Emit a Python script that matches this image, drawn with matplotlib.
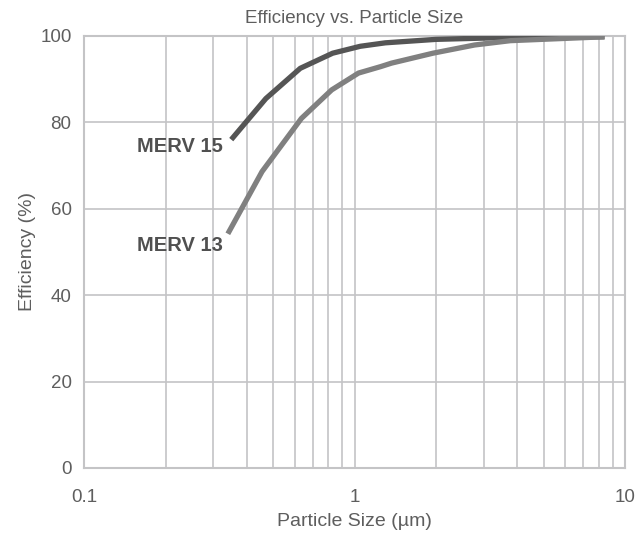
import numpy as np
import matplotlib
matplotlib.use("Agg")
import matplotlib.pyplot as plt
from matplotlib.ticker import FixedLocator, LogLocator, NullFormatter

# data
merv15_size = [0.35, 0.47, 0.63, 0.83, 1.05, 1.3, 2.0, 3.5, 8.4]
merv15_eff = [76.0, 85.5, 92.5, 96.0, 97.6, 98.4, 99.2, 99.6, 99.8]
merv13_size = [0.34, 0.455, 0.636, 0.823, 1.034, 1.25, 1.37, 1.95, 2.78, 3.77, 8.4]
merv13_eff = [54.2, 68.6, 80.9, 87.5, 91.4, 92.9, 93.7, 96.0, 97.9, 98.9, 99.8]
x_ticks = [0.1, 1, 10]
x_labels = ["0.1", "1", "10"]
y_ticks = [0, 20, 40, 60, 80, 100]

plt.rcParams['font.family'] = ['Liberation Sans', 'DejaVu Sans']

grid_c = '#c4c4c6'
text_c = '#5e5e5e'

fig = plt.figure(figsize=(6.42, 5.36), dpi=100)
ax = fig.add_axes([0.131, 0.127, 0.8425, 0.806])

ax.set_xscale('log')
ax.set_xlim(0.1, 10)
ax.set_ylim(0, 100)

ax.xaxis.set_major_locator(FixedLocator(x_ticks))
ax.set_xticklabels(x_labels)
ax.xaxis.set_minor_locator(LogLocator(base=10, subs=np.arange(2, 10)))
ax.xaxis.set_minor_formatter(NullFormatter())
ax.set_yticks(y_ticks)

ax.grid(True, which='both', axis='x', color=grid_c, lw=1.2)
ax.grid(True, which='major', axis='y', color=grid_c, lw=1.2)
ax.set_axisbelow(True)
for s in ax.spines.values():
    s.set_color(grid_c)
    s.set_linewidth(1.5)

ax.tick_params(which='both', length=0, labelsize=13.5, colors=text_c)
ax.tick_params(axis='x', pad=15)
ax.tick_params(axis='y', pad=9)

ax.plot(merv15_size, merv15_eff, color='#555555', lw=3.8, solid_capstyle='butt', zorder=3)
ax.plot(merv13_size, merv13_eff, color='#808080', lw=3.8, solid_capstyle='butt', zorder=3)

ax.text(0.325, 74.3, "MERV 15", ha='right', va='center', fontsize=14.5,
        fontweight='bold', color='#505050')
ax.text(0.325, 51.6, "MERV 13", ha='right', va='center', fontsize=14.5,
        fontweight='bold', color='#505050')

ax.set_title("Efficiency vs. Particle Size", fontsize=13.5, color=text_c, pad=9)
ax.set_xlabel("Particle Size (µm)", fontsize=14, color=text_c, labelpad=5)
ax.set_ylabel("Efficiency (%)", fontsize=14, color=text_c, labelpad=3)

plt.savefig('out.png', dpi=100)
